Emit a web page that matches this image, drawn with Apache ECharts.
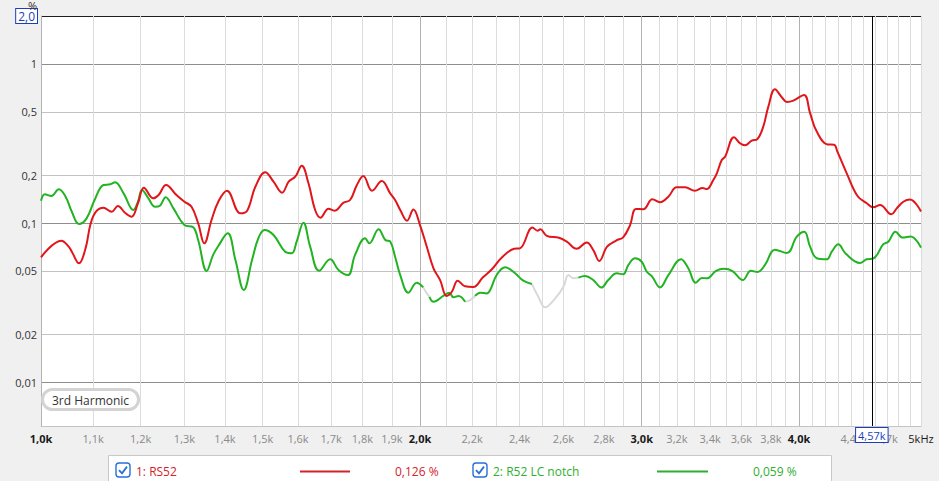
<!DOCTYPE html>
<html>
<head>
<meta charset="utf-8">
<script src="https://cdn.jsdelivr.net/npm/echarts@6/dist/echarts.min.js"></script>
<style>
html,body{margin:0;padding:0;background:#f0f0f0;}
#c{width:939px;height:481px;}
</style>
</head>
<body>
<div id="c"></div>
<script>
// ---- data (frequency in Hz, 3rd harmonic distortion in %) ----
const rs52Freq = [1000,1038,1052,1058,1072,1084,1100,1121,1138,1151,1166,1180,1194,1207,1228,1240,1257,1281,1300,1317,1333,1348,1366,1383,1405,1440,1458,1480,1507,1530,1554,1573,1592,1611,1631,1651,1667,1692,1710,1739,1760,1782,1803,1832,1865,1894,1911,1929,1953,1976,2000,2025,2050,2075,2100,2120,2143,2172,2205,2243,2281,2323,2376,2401,2457,2480,2492,2522,2579,2616,2664,2713,2746,2776,2816,2863,2900,2937,2968,3009,3059,3102,3150,3198,3248,3307,3353,3379,3420,3442,3473,3494,3552,3591,3624,3669,3706,3747,3782,3828,3876,3912,3959,4037,4082,4132,4214,4265,4291,4365,4452,4528,4582,4639,4736,4783,4841,4900,5000];
const rs52Pct  = [0.0609,0.0774,0.0710,0.066,0.0558,0.0676,0.110,0.1248,0.1178,0.1279,0.1161,0.1096,0.133,0.1667,0.1429,0.1499,0.1733,0.1499,0.1361,0.1266,0.0996,0.0745,0.1044,0.1361,0.1596,0.1151,0.1195,0.169,0.2083,0.1818,0.155,0.1818,0.1954,0.2292,0.1776,0.1207,0.108,0.123,0.1195,0.1342,0.1395,0.1733,0.1974,0.1596,0.1836,0.1536,0.1395,0.1207,0.1034,0.1216,0.0971,0.071,0.0519,0.0438,0.0348,0.037,0.0434,0.040,0.0396,0.0454,0.0512,0.0607,0.0689,0.0693,0.0937,0.0895,0.0913,0.0831,0.0807,0.0763,0.0689,0.0754,0.0676,0.0577,0.071,0.0776,0.0813,0.0971,0.1225,0.122,0.141,0.1349,0.1464,0.1676,0.1676,0.1596,0.1659,0.1635,0.1863,0.2053,0.2489,0.2611,0.3462,0.3172,0.3082,0.3295,0.3363,0.4036,0.539,0.6934,0.6174,0.5768,0.5877,0.6383,0.49,0.3754,0.3118,0.3104,0.281,0.2053,0.1477,0.133,0.1255,0.1298,0.1134,0.1237,0.1361,0.1405,0.118];

const notchFreq = [1000,1007,1019,1033,1046,1058,1072,1087,1103,1121,1135,1145,1163,1184,1194,1203,1217,1232,1243,1256,1274,1300,1321,1333,1354,1370,1383,1407,1427,1449,1471,1488,1505,1530,1563,1582,1596,1616,1636,1663,1697,1723,1753,1776,1809,1823,1854,1877,1894,1911,1929,1958,1988,2012,2025,2035,2050,2087,2110,2126,2146,2172,2192,2212,2233,2260,2274,2301,2337,2380,2416,2454,2483,2514,2561,2600,2624,2648,2672,2705,2746,2787,2822,2866,2900,2928,2964,3000,3028,3056,3102,3150,3224,3267,3312,3350,3379,3437,3487,3542,3609,3663,3708,3759,3828,3912,3984,4039,4082,4132,4208,4247,4298,4356,4472,4528,4582,4667,4710,4772,4834,4907,5000];
const notchPct  = [0.1381,0.1515,0.1478,0.1628,0.1464,0.1178,0.0986,0.107,0.1395,0.1733,0.175,0.1802,0.1536,0.1207,0.1361,0.1612,0.1429,0.1266,0.1285,0.145,0.1237,0.0971,0.094,0.0782,0.050,0.063,0.0717,0.0861,0.0585,0.0379,0.0585,0.0801,0.0904,0.0841,0.066,0.0645,0.0763,0.1004,0.071,0.0501,0.0592,0.0507,0.0471,0.063,0.0801,0.0745,0.0913,0.0782,0.0765,0.0614,0.0471,0.0365,0.0421,0.0394,0.0361,0.0344,0.032,0.0348,0.0365,0.0341,0.0348,0.032,0.0328,0.0348,0.0365,0.0361,0.0379,0.0471,0.0527,0.0483,0.0434,0.0414,0.0344,0.0295,0.0336,0.0398,0.0471,0.0449,0.0454,0.0464,0.0438,0.0393,0.0438,0.0483,0.0476,0.0545,0.060,0.0571,0.0494,0.0464,0.0394,0.0471,0.0592,0.0519,0.0421,0.0452,0.0449,0.050,0.0515,0.0498,0.0438,0.0501,0.0492,0.0545,0.0679,0.0648,0.082,0.0882,0.071,0.060,0.0591,0.066,0.0735,0.0643,0.0561,0.0592,0.0598,0.0736,0.0763,0.0882,0.081,0.0824,0.070];
// spans (Hz) where the notch trace is drawn grey (low coherence)
const notchGreySpans = [[2012,2035],[2172,2212],[2454,2672]];

const xGridFreqs = [1000,1100,1200,1300,1400,1500,1600,1700,1800,1900,2000,2100,2200,2300,2400,2500,2600,2700,2800,2900,3000,3100,3200,3300,3400,3500,3600,3700,3800,3900,4000,4100,4200,4300,4400,4500,4600,4700,4800,4900,5000];
const xLabelFreqs = [1000,1100,1200,1300,1400,1500,1600,1700,1800,1900,2000,2200,2400,2600,2800,3000,3200,3400,3600,3800,4000,4400,4700,5000];
const yTickPct = [0.01,0.02,0.05,0.1,0.2,0.5,1,2];
const yUnit = '%';
const cursorFreq = 4570;
const legendNames = ['1: RS52','2: R52 LC notch'];
const cursorReadout = [0.126, 0.059];

// ---- chart ----
const FONT = 'Open Sans, Noto Sans, sans-serif';
const RED = '#e0161b', GREEN = '#22b322', GREY = '#d9d9d9';
const RED_T = '#d2232a', GREEN_T = '#2fae2f', BLUE = '#1c3fb8';

function inGrey(f, strict) {
  return notchGreySpans.some(s => strict ? (f > s[0] && f < s[1]) : (f >= s[0] && f <= s[1]));
}
const redData = rs52Freq.map((f, i) => [f, rs52Pct[i]]);
const greenData = notchFreq.map((f, i) => inGrey(f, true) ? [f, null] : [f, notchPct[i]]);
const greyData = notchFreq.map((f, i) => inGrey(f, false) ? [f, notchPct[i]] : [f, null]);

const comma = s => String(s).replace('.', ',');
function fmtK(v) {
  if (v === 5000) return '5kHz';
  const k = v / 1000;
  return comma(Number.isInteger(k * 10) ? k.toFixed(1) : k.toFixed(2)) + 'k';
}

const chart = echarts.init(document.getElementById('c'), null, {renderer: 'svg'});

function checkbox(x, y) {
  return [
    {type: 'rect', shape: {x: x, y: y, width: 14, height: 14, r: 3},
     style: {fill: '#fff', stroke: '#2a6fd6', lineWidth: 1.4}, z: 100},
    {type: 'polyline', shape: {points: [[x + 3, y + 7.2], [x + 6, y + 10.3], [x + 11, y + 3.6]]},
     style: {fill: null, stroke: '#2a6fd6', lineWidth: 1.8}, z: 101}
  ];
}
const legendText = (x, text, color) => ({type: 'text', x: x, y: 471, z: 101,
  style: {text: text, fill: color, font: '12px ' + FONT, textVerticalAlign: 'middle'}});
const legendLine = (x1, x2, color) => ({type: 'line', z: 101,
  shape: {x1: x1, y1: 471.5, x2: x2, y2: 471.5}, style: {stroke: color, lineWidth: 2}});

const option = {
  animation: false,
  backgroundColor: '#f0f0f0',
  textStyle: {fontFamily: FONT},
  title: {
    text: '3rd Harmonic', left: 42, top: 389,
    backgroundColor: '#fff', borderColor: '#d3d3d3', borderWidth: 3, borderRadius: 13,
    padding: [5, 10, 4, 10],
    textStyle: {fontSize: 12, fontWeight: 'normal', color: '#333', fontFamily: FONT}
  },
  grid: {left: 41, right: 18, top: 16, bottom: 55, show: true, backgroundColor: '#fff',
         borderWidth: 0, outerBoundsMode: 'none', containLabel: false},
  xAxis: {
    type: 'log', min: 1000, max: 5000,
    axisLine: {show: true, lineStyle: {color: '#c4c4c4'}},
    axisTick: {show: false, customValues: xGridFreqs},
    axisLabel: {
      customValues: xLabelFreqs, margin: 7, fontSize: 11, fontFamily: FONT,
      formatter: v => {
        const t = fmtK(v);
        if (v === 5000) return '{m|' + t + '}';
        return (v % 1000 === 0 ? '{b|' : '{g|') + t + '}';
      },
      rich: {
        b: {color: '#1a1a1a', fontWeight: 'bold', fontSize: 11, fontFamily: FONT},
        g: {color: '#8a8a8a', fontSize: 11, fontFamily: FONT},
        m: {color: '#1a1a1a', fontSize: 11, fontFamily: FONT}
      }
    },
    splitLine: {show: true, lineStyle: {width: 1,
      color: xGridFreqs.map(f => f % 1000 === 0 && f !== 1000 && f !== 5000 ? '#b2b2b2' : '#dcdcdc')}}
  },
  yAxis: {
    type: 'log', min: 0.0053, max: 2,
    axisLine: {show: true, lineStyle: {color: '#b4b4b4'}},
    axisTick: {show: false, customValues: yTickPct},
    axisLabel: {
      customValues: yTickPct, margin: 4, fontSize: 11, color: '#333', fontFamily: FONT,
      formatter: v => v === 2 ? '{box|2,0}' : comma(v),
      rich: {box: {color: BLUE, borderColor: BLUE, borderWidth: 1, backgroundColor: '#fff',
                   padding: [1, 2, 1, 2], fontSize: 12, lineHeight: 13, fontFamily: FONT}}
    },
    splitLine: {show: true, lineStyle: {width: 1,
      color: yTickPct.map(v => v === 2 ? '#1e1e1e' : ([0.01, 0.1, 1].indexOf(v) >= 0 ? '#8e8e8e' : '#c2c2c2'))}}
  },
  series: [
    {
      name: legendNames[1] + ' (low coherence)', type: 'line', data: greyData, showSymbol: false,
      smooth: 0.4, connectNulls: false, lineStyle: {color: GREY, width: 2}, itemStyle: {color: GREY}, z: 2
    },
    {
      name: legendNames[1], type: 'line', data: greenData, showSymbol: false,
      smooth: 0.4, connectNulls: false, lineStyle: {color: GREEN, width: 2}, itemStyle: {color: GREEN}, z: 3
    },
    {
      name: legendNames[0], type: 'line', data: redData, showSymbol: false,
      smooth: 0.4, lineStyle: {color: RED, width: 2}, itemStyle: {color: RED}, z: 4,
      markLine: {
        silent: true, symbol: ['none', 'none'], animation: false,
        lineStyle: {color: '#000', width: 1, type: 'solid'},
        emphasis: {disabled: true},
        label: {show: true, position: 'start', distance: 2, formatter: fmtK(cursorFreq),
                color: BLUE, backgroundColor: '#fff', borderColor: BLUE, borderWidth: 1,
                padding: [2, 2, 1, 2], fontSize: 11, fontFamily: FONT},
        data: [{xAxis: cursorFreq}]
      }
    }
  ],
  graphic: [
    {type: 'text', x: 37, y: 0, z: 50,
     style: {text: yUnit, fill: '#333', font: '11px ' + FONT, textAlign: 'right', textVerticalAlign: 'top'}},
    {type: 'rect', shape: {x: 108.5, y: 455.5, width: 723, height: 40},
     style: {fill: '#fff', stroke: '#c9c9c9', lineWidth: 1}, z: 99},
    ...checkbox(116, 463),
    legendText(136, legendNames[0], RED_T),
    legendLine(300, 350, RED_T),
    legendText(395, comma(cursorReadout[0].toFixed(3)) + ' %', RED_T),
    ...checkbox(473, 463),
    legendText(493, legendNames[1], GREEN_T),
    legendLine(657, 708, GREEN_T),
    legendText(753, comma(cursorReadout[1].toFixed(3)) + ' %', GREEN_T)
  ]
};
chart.setOption(option);
</script>
</body>
</html>
